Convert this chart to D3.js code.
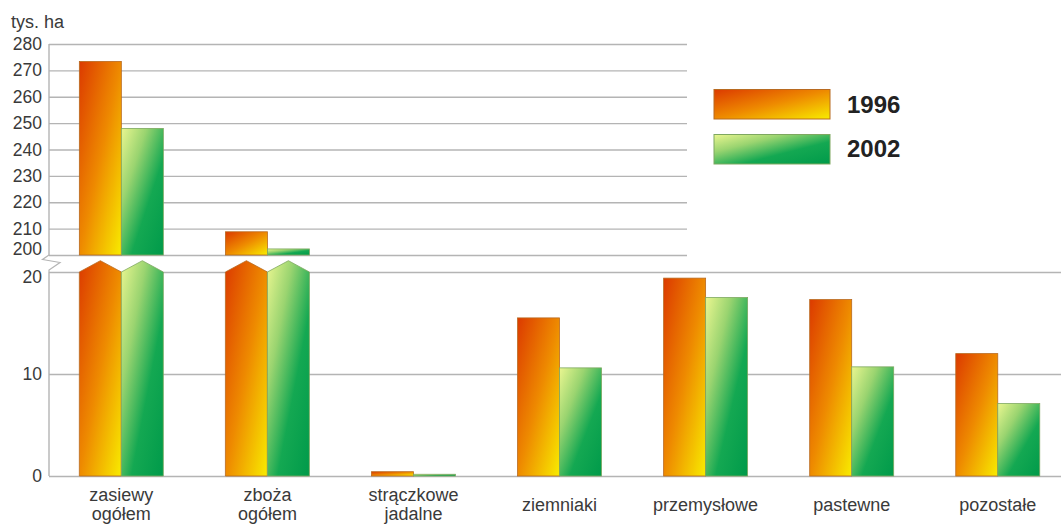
<!DOCTYPE html>
<html><head><meta charset="utf-8">
<script src="https://cdn.jsdelivr.net/npm/d3@7"></script>
<style>
html,body{margin:0;padding:0;background:#fff;}
text{font-family:"Liberation Sans",Arial,sans-serif;}
</style></head>
<body><svg id="c" width="1061" height="524"></svg>
<script>
const categories = ["zasiewy ogółem","zboża ogółem","strączkowe jadalne","ziemniaki","przemysłowe","pastewne","pozostałe"];
const years = ["1996","2002"];
const v1996 = [273.4, 208.8, 0.42, 15.5, 19.4, 17.3, 12.0];
const v2002 = [248.0, 202.3, 0.17, 10.6, 17.5, 10.7, 7.1];
const topTicks = [200,210,220,230,240,250,260,270,280];
const bottomTicks = [0,10,20];
const unitLabel = "tys. ha";

const svg = d3.select("#c");
const defs = svg.append("defs");
function grad(id, stops){
  const g = defs.append("linearGradient").attr("id", id)
    .attr("x1",0).attr("y1",0).attr("x2",1).attr("y2",1);
  stops.forEach(s=>g.append("stop").attr("offset",s[0]).attr("stop-color",s[1]));
}
grad("g1996", [[0,"#dc3a00"],[0.5,"#ee8a00"],[1,"#f8ec00"]]);
grad("g2002", [[0,"#eaf690"],[0.3,"#9ad470"],[0.62,"#14a852"],[1,"#009a4a"]]);
const fills = {"1996":"url(#g1996)","2002":"url(#g2002)"};
const strokes = {"1996":"#b86a20","2002":"#7ea860"};

const axisX = 49, topRight = 687, fullRight = 1061;
const yTop = d3.scaleLinear().domain([200,280]).range([255,44]);
const yBot = d3.scaleLinear().domain([0,20]).range([476,272]);
const x = d3.scaleBand().domain(categories).range([48.3,1070.8]).paddingInner(0.425).paddingOuter(0.2125);
const x1 = d3.scaleBand().domain(years).range([0,x.bandwidth()]);
const gridColor = "#b4b4b4";

function styleAxis(g){
  g.select(".domain").remove();
  g.selectAll(".tick line").attr("stroke",gridColor).attr("stroke-width",1.4);
  g.selectAll(".tick text").attr("fill","#3a3a3a").style("font-size","17.5px");
}
const gTop = svg.append("g").attr("transform",`translate(${axisX},0)`)
  .call(d3.axisLeft(yTop).tickValues(topTicks).tickSizeInner(-(topRight-axisX)).tickSizeOuter(0).tickPadding(7))
  .call(styleAxis);
const gBot = svg.append("g").attr("transform",`translate(${axisX},0)`)
  .call(d3.axisLeft(yBot).tickValues(bottomTicks).tickSizeInner(-(fullRight-axisX)).tickSizeOuter(0).tickPadding(7))
  .call(styleAxis);
// separate the labels at the axis break
gTop.selectAll(".tick").filter(d=>d===200).select("text").attr("dy","-0.02em");
gBot.selectAll(".tick").filter(d=>d===20).select("text").attr("dy","0.62em");

svg.append("line").attr("x1",axisX).attr("x2",axisX).attr("y1",yTop(280)).attr("y2",yTop(200))
  .attr("stroke",gridColor).attr("stroke-width",1.4);
svg.append("line").attr("x1",axisX).attr("x2",axisX).attr("y1",yBot(20)).attr("y2",yBot(0))
  .attr("stroke",gridColor).attr("stroke-width",1.4);
svg.append("path").attr("d",`M${axisX},${yTop(200)} L${axisX-6.5},${yTop(200)+4.5} L${axisX+11},${yTop(200)+7.5} L${axisX},${yBot(20)-2} L${axisX},${yBot(20)}`)
  .attr("fill","none").attr("stroke",gridColor).attr("stroke-width",1.2);

svg.append("text").attr("x",11).attr("y",28).attr("fill","#3a3a3a").style("font-size","18px").text(unitLabel);

const data = [];
categories.forEach((c,i)=>{
  data.push({c, year:"1996", v:v1996[i]});
  data.push({c, year:"2002", v:v2002[i]});
});

const bars = svg.append("g");
data.forEach(d=>{
  const x0 = x(d.c)+x1(d.year), w = x1.bandwidth();
  if (d.v >= 200){
    bars.append("rect").attr("x",x0).attr("y",yTop(d.v)).attr("width",w).attr("height",yTop(200)-yTop(d.v))
      .attr("fill",fills[d.year]).attr("stroke",strokes[d.year]).attr("stroke-width",0.8);
    const sh = yBot(20), pk = yBot(20)-11.3;
    bars.append("path")
      .attr("d",`M${x0},${yBot(0)} L${x0},${sh} L${x0+w/2},${pk} L${x0+w},${sh} L${x0+w},${yBot(0)} Z`)
      .attr("fill",fills[d.year]).attr("stroke",strokes[d.year]).attr("stroke-width",0.8);
  } else {
    bars.append("rect").attr("x",x0).attr("y",yBot(d.v)).attr("width",w).attr("height",yBot(0)-yBot(d.v))
      .attr("fill",fills[d.year]).attr("stroke",strokes[d.year]).attr("stroke-width",0.8);
  }
});

categories.forEach(c=>{
  const parts = c.split(" ");
  const cx = x(c)+x.bandwidth()/2;
  const t = svg.append("text").attr("text-anchor","middle").attr("fill","#3a3a3a").style("font-size","18px");
  if (parts.length===1){
    t.attr("x",cx).attr("y",511).text(c);
  } else {
    parts.forEach((p,j)=>t.append("tspan").attr("x",cx).attr("y",501+j*18.5).text(p));
  }
});

const lg = svg.append("g");
years.forEach((yr,i)=>{
  lg.append("rect").attr("x",714).attr("y",89.5+i*45).attr("width",116).attr("height",29.5)
    .attr("fill",fills[yr]).attr("stroke",strokes[yr]).attr("stroke-width",1);
  lg.append("text").attr("x",847).attr("y",113+i*44).attr("fill","#222")
    .style("font-size","24px").style("font-weight","bold").text(yr);
});
</script></body></html>
